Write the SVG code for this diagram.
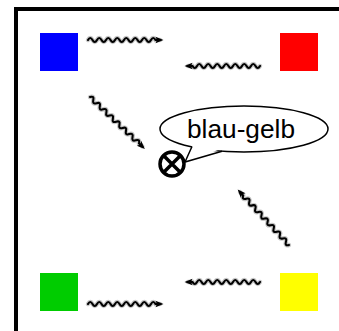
<svg xmlns="http://www.w3.org/2000/svg" xmlns:xlink="http://www.w3.org/1999/xlink" width="339" height="331" viewBox="0 0 339 331">
<style>
.halo{fill:none;stroke:#c4c4c4;stroke-width:4.4;stroke-linecap:round}
.wv{fill:none;stroke:#000;stroke-width:2.1;stroke-linecap:round}
.sq{stroke:none}
.lbl{font-family:"Liberation Sans",Arial,sans-serif;font-size:25px;fill:#000}
</style>
<defs>
<g id="wave">
<path class="halo" d="M0,0 q2.25,-4 4.5,0 t4.5,0 t4.5,0 t4.5,0 t4.5,0 t4.5,0 t4.5,0 t4.5,0 t4.5,0 t4.5,0 t4.5,0 t4.5,0 t4.5,0 t4.5,0 t4.5,0 L72,0"/>
<path class="wv" d="M0,0 q2.25,-4 4.5,0 t4.5,0 t4.5,0 t4.5,0 t4.5,0 t4.5,0 t4.5,0 t4.5,0 t4.5,0 t4.5,0 t4.5,0 t4.5,0 t4.5,0 t4.5,0 t4.5,0 L72,0"/>
<polygon points="75.5,0 67.5,-3.3 69,0 67.5,3.3" fill="#000"/>
</g>
</defs>
<rect x="16" y="9" width="340" height="340" fill="#fff" stroke="#000" stroke-width="4"/>
<g id="blue"><rect class="sq" x="40" y="33" width="38" height="38" fill="#0000ff"/></g>
<g id="red"><rect class="sq" x="280" y="33" width="38" height="38" fill="#ff0000"/></g>
<g id="green"><rect class="sq" x="40" y="273" width="38" height="38" fill="#00cc00"/></g>
<g id="yellow"><rect class="sq" x="280" y="273" width="38" height="38" fill="#ffff00"/></g>
<g id="connectors">
<use xlink:href="#wave" transform="translate(88,40)"/>
<use xlink:href="#wave" transform="translate(260,66) rotate(180)"/>
<use xlink:href="#wave" transform="translate(90,97) rotate(43.4)"/>
<use xlink:href="#wave" transform="translate(289,245) rotate(227.2)"/>
<use xlink:href="#wave" transform="translate(260,282) rotate(180)"/>
<use xlink:href="#wave" transform="translate(88,304)"/>
</g>
<g id="junction">
<circle cx="172" cy="164" r="12" fill="#fff" stroke="#000" stroke-width="3.5"/>
<path d="M163.5,155.5 L180.5,172.5 M180.5,155.5 L163.5,172.5" stroke="#000" stroke-width="3.5"/>
</g>
<g id="callout">
<ellipse cx="244" cy="129" rx="84" ry="23" fill="#fff" stroke="#000" stroke-width="1.5"/>
<polygon points="193,144 186,161 221,149" fill="#fff"/>
<polyline points="192,146.5 185,162 222,151.2" fill="none" stroke="#000" stroke-width="1.5"/>
<text class="lbl" x="241" y="137.5" text-anchor="middle" textLength="108" lengthAdjust="spacingAndGlyphs">blau-gelb</text>
</g>
</svg>
